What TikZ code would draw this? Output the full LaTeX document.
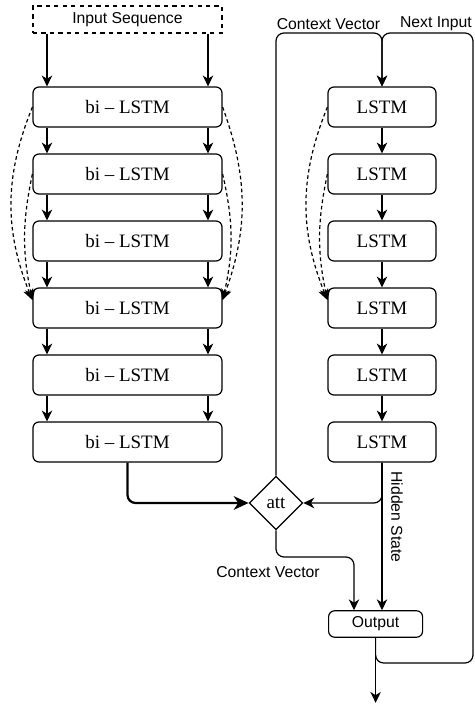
\documentclass[tikz,border=0pt]{standalone}
\usepackage{fontspec}
\setmainfont{Liberation Serif}
\setsansfont{Liberation Sans}
\usetikzlibrary{arrows.meta,shapes.geometric}

\begin{document}
\begin{tikzpicture}[
        >={Stealth[length=2.7mm,width=2.6mm,inset=0.8mm]},
        line width=0.85pt,
        cell/.style={draw, rounded corners=0.15cm, minimum height=1cm,
            font=\fontsize{13.5}{16}\selectfont},
        bicell/.style={cell, minimum width=4.725cm},
        unicell/.style={cell, minimum width=2.7cm},
        lbl/.style={font=\sffamily\fontsize{11.2}{13}\selectfont},
        skip/.style={->, dash pattern=on 2.6pt off 2pt},
        elbow/.style={rounded corners=0.2cm},
    ]
        \useasboundingbox (0,0) rectangle (11.875,17.6);

        % encoder and decoder stacks
        \foreach \i in {1,...,6} {
            \node[bicell] (b\i) at (3.1875,16.6-1.675*\i) {bi -- LSTM};
            \node[unicell] (l\i) at (9.55,16.6-1.675*\i) {LSTM};
        }
        \node[draw, dashed, lbl, minimum width=4.725cm, minimum height=0.675cm]
            (seq) at (3.1875,17.1125) {Input Sequence};
        \node[draw, diamond, inner sep=0pt, minimum size=1.34cm,
            font=\fontsize{13.5}{16}\selectfont] (att) at (6.9,5.025) {att};
        \node[draw, lbl, rounded corners=0.15cm, minimum width=2.35cm,
            minimum height=0.66cm] (out) at (9.39,2.0) {Output};

        % both directions of the bi-LSTM
        \foreach \s in {-2.0125,2.0125} {
            \draw[->] ([xshift=\s cm]seq.south) -- ([xshift=\s cm]b1.north);
            \foreach \i [evaluate=\i as \j using int(\i+1)] in {1,...,5}
                \draw[->] ([xshift=\s cm]b\i.south) -- ([xshift=\s cm]b\j.north);
        }
        \foreach \i [evaluate=\i as \j using int(\i+1)] in {1,...,5}
            \draw[->] (l\i) -- (l\j);

        % residual connections
        \draw[skip] (b1.west) to[bend right=22] ([yshift=0.2cm]b4.west);
        \draw[skip] (b2.west) to[bend right=12] ([yshift=0.2cm]b4.west);
        \draw[skip] (b1.east) to[bend left=20] ([yshift=0.2cm]b4.east);
        \draw[skip] (b2.east) to[bend left=13] ([yshift=0.2cm]b4.east);
        \draw[skip] (l1.west) to[bend right=22] ([yshift=0.2cm]l4.west);
        \draw[skip] (l2.west) to[bend right=12] ([yshift=0.2cm]l4.west);

        % attention
        \draw[-{Stealth[length=3.7mm,width=3.4mm,inset=1.1mm]}, line width=1.6pt, elbow]
            (b6.south) |- (att.west);
        \draw[->, elbow] (l6.south) |- (att.east);
        \draw[->] (l6.south) -- (l6.south |- out.north);
        \node[lbl, rotate=-90] (hid) at (9.925,4.675) {Hidden State};
        \draw[->, elbow] (att.south) -- ++(0,-0.665) -| ([xshift=-0.54cm]out.north);
        \node[lbl] (cvb) at (6.7,3.3) {Context Vector};

        % feeding back into the decoder
        \coordinate (join) at (9.55,16.775);
        \coordinate (fb) at (11.825,1.025);
        \coordinate (end) at (9.39,0.03);
        \draw[->, elbow] (att.north) |- (join) -- (l1.north);
        \draw[->, elbow] (out.south) |- (fb) |- (join) -- (l1.north);
        \draw[->] (out.south) -- (end);
        \node[lbl] (cvt) at (8.2125,17.0) {Context Vector};
        \node[lbl] (nxt) at (10.9,17.0) {Next Input};
    \end{tikzpicture}
\end{document}
